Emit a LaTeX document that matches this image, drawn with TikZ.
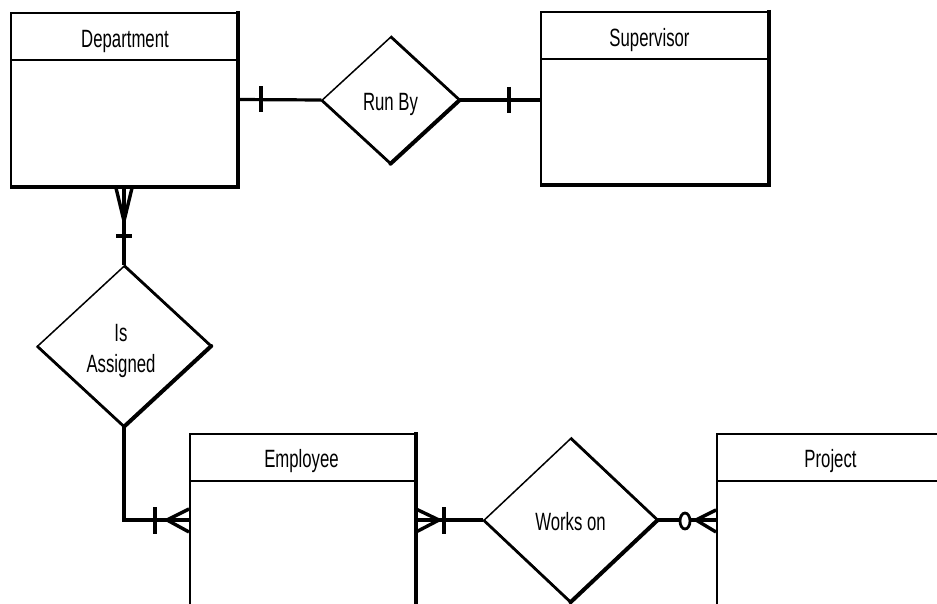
\documentclass[tikz,border=0pt]{standalone}
\usepackage{fontspec}
\setmainfont{Liberation Sans}[FakeStretch=0.67]
\usetikzlibrary{shapes.geometric,calc}
\begin{document}
\begin{tikzpicture}[x=1pt,y=-1pt,
  entity/.style={draw, line width=2pt, inner sep=0pt, rectangle},
  shadowedge/.style={line width=3.5pt, line cap=butt, line join=miter},
  headline/.style={line width=2pt},
  title/.style={font=\fontsize{25}{31}\selectfont, inner sep=0pt, anchor=base},
  rel/.style={draw, diamond, line width=1.5pt, inner sep=0pt},
  reltext/.style={font=\fontsize{25}{31}\selectfont, inner sep=0pt, align=center},
  conn/.style={line width=3.2pt},
  foot/.style={line width=3.4pt}]
\useasboundingbox (0,0) rectangle (937,604);
\clip (0,0) rectangle (937,604);
\fill[white] (0,0) rectangle (937,604);

% entities
\node[entity, minimum width=226pt, minimum height=173pt] (dept) at (124,99.5) {};
\node[entity, minimum width=227pt, minimum height=172pt] (sup) at (654.5,98) {};
\node[entity, minimum width=225pt, minimum height=200pt] (emp) at (302.5,534) {};
\node[entity, minimum width=227pt, minimum height=200pt] (proj) at (830.5,534) {};

\foreach \e in {dept,sup,emp,proj}{
  \draw[headline] ($(\e.north west)+(0,48)$) -- ($(\e.north east)+(0,48)$);
  \draw[shadowedge] ($(\e.north east)+(0,-1)$) -- (\e.south east) -- (\e.south west);
}

\node[title] (deptt) at ($(dept.north)+(1,36)$) {Department};
\node[title] (supt) at ($(sup.north)+(-5,36)$) {Supervisor};
\node[title] (empt) at ($(emp.north)+(-1,34)$) {Employee};
\node[title] (projt) at ($(proj.north)+(0,34)$) {Project};

% relationships
\node[rel, minimum width=137pt, minimum height=126pt] (ra) at (390.5,100) {};
\node[rel, minimum width=173pt, minimum height=160pt] (ia) at (124,346) {};
\node[rel, minimum width=173pt, minimum height=163pt] (wo) at (570.5,520) {};

\foreach \r in {ra,ia,wo}{
  \draw[line width=2.5pt] (\r.north) -- (\r.east);
  \draw[line width=2.5pt] (\r.west) -- (\r.south);
  \draw[line width=4pt, line cap=round] (\r.east) -- (\r.south);
}

\node[title] (rat) at ($(ra.center)+(0,11)$) {Run By};
\node[reltext] (iat) at ($(ia.center)+(-3,5)$) {Is\\Assigned};
\node[title] (wot) at ($(wo.center)+(0,10)$) {Works on};

% connectors
\draw[conn] (dept.east) -- (ra.west);
\draw[conn] (ra.east) -- (ra.east -| sup.west);
\draw[conn] (dept.south) -- (ia.north);
\draw[conn] (ia.south) |- (emp.west |- wo.west);
\draw[conn] (emp.east |- wo.west) -- (wo.west);
\draw[conn] (wo.east) -- (wo.east -| proj.west);

% one marks
\draw[conn] ($(dept.east)+(23,-13)$) -- ++(0,26);
\draw[conn] ($(sup.west |- ra.east)+(-31,-13)$) -- ++(0,26);
\draw[conn] ($(dept.south)+(-8,49)$) -- ++(16,0);
\draw[conn] ($(emp.west |- wo.west)+(-34,-13)$) -- ++(0,27);
\draw[conn] ($(emp.east |- wo.west)+(28,-13)$) -- ++(0,27);

% crow's feet
\coordinate (cf1) at ($(dept.south)+(0,34)$);
\draw[foot] (cf1) -- ++(-8,-33) (cf1) -- ++(8,-33);
\coordinate (cf2) at ($(emp.west |- wo.west)+(-22,0)$);
\draw[foot] (cf2) -- ++(22,-11) (cf2) -- ++(22,12);
\coordinate (cf3) at ($(emp.east |- wo.west)+(23,0)$);
\draw[foot] (cf3) -- ++(-23,-11) (cf3) -- ++(-23,12);
\coordinate (cf4) at ($(proj.west |- wo.east)+(-20,0)$);
\draw[foot] (cf4) -- ++(20,-10) (cf4) -- ++(20,12);

% zero mark
\draw[line width=2.8pt, fill=white] ($(proj.west |- wo.east)+(-31,1)$) ellipse [x radius=5pt, y radius=8pt];
\end{tikzpicture}
\end{document}
